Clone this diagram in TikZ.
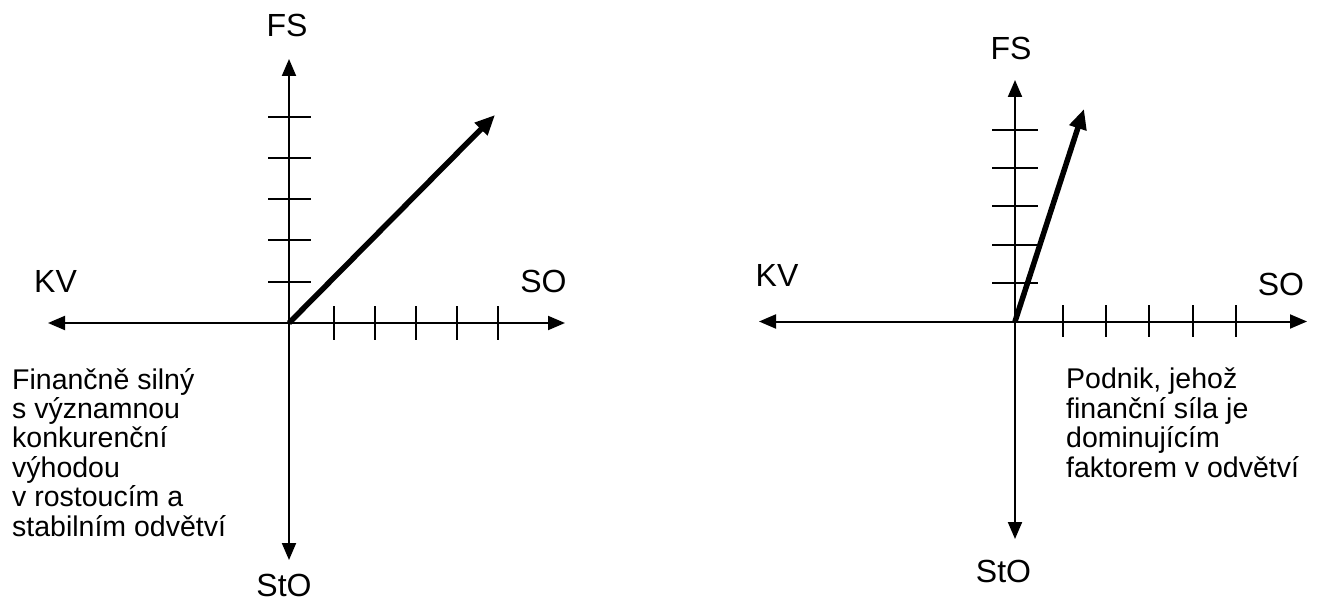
\documentclass[tikz,border=0pt]{standalone}
\usepackage{fontspec}
\setmainfont{Liberation Sans}
\usetikzlibrary{arrows.meta}
\begin{document}
\begin{tikzpicture}[x=1pt,y=-1pt,
  axisline/.style={line width=2pt,{Triangle[length=17pt,width=14pt]}-{Triangle[length=17pt,width=14pt]}},
  tickline/.style={line width=2pt},
  vecline/.style={line width=5.5pt,-{Triangle[length=20pt,width=17pt]}},
  axlabel/.style={inner sep=0pt,anchor=base,font=\fontsize{32}{36}\selectfont},
  bodytext/.style={inner sep=0pt,anchor=north west,align=left,font=\fontsize{28.5}{29.4}\selectfont}]
\useasboundingbox (0,0) rectangle (1320,604);
% ---------- left diagram ----------
\coordinate (O1) at (289,323);
\coordinate (T1) at (289,59);
\coordinate (B1) at (289,560);
\coordinate (L1) at (48,323);
\coordinate (R1) at (565,323);
\coordinate (V1) at (495,115);
\draw[axisline] (T1) -- (B1);
\draw[axisline] (L1) -- (R1);
\foreach \y in {117,158,199,240,282} \draw[tickline] (268,\y) -- (311,\y);
\foreach \x in {334,375,416,457,498} \draw[tickline] (\x,306) -- (\x,340);
\draw[vecline] (O1) -- (V1);
\node[axlabel] (fs1) at (287,37) {FS};
\node[axlabel] (kv1) at (55.5,292) {KV};
\node[axlabel] (so1) at (543.5,292) {SO};
\node[axlabel] (sto1) at (284,596) {StO};
\node[bodytext] (txt1) at (12,368) {Finančně silný\\s významnou\\konkurenční\\výhodou\\v rostoucím a\\stabilním odvětví};
% ---------- right diagram ----------
\coordinate (O2) at (1015,321.5);
\coordinate (T2) at (1015,80);
\coordinate (B2) at (1015,539);
\coordinate (L2) at (759,321.5);
\coordinate (R2) at (1307,321.5);
\coordinate (V2) at (1084,109);
\draw[axisline] (T2) -- (B2);
\draw[axisline] (L2) -- (R2);
\foreach \y in {130,168,206,245,283} \draw[tickline] (992,\y) -- (1038,\y);
\foreach \x in {1063,1106,1149,1193,1236} \draw[tickline] (\x,305) -- (\x,337);
\draw[vecline] (O2) -- (V2);
\node[axlabel] (fs2) at (1011,60) {FS};
\node[axlabel] (kv2) at (777,287) {KV};
\node[axlabel] (so2) at (1281,295) {SO};
\node[axlabel] (sto2) at (1003.5,582) {StO};
\node[bodytext] (txt2) at (1066,368) {Podnik, jehož\\finanční síla je\\dominujícím\\faktorem v odvětví};
\end{tikzpicture}
\end{document}
